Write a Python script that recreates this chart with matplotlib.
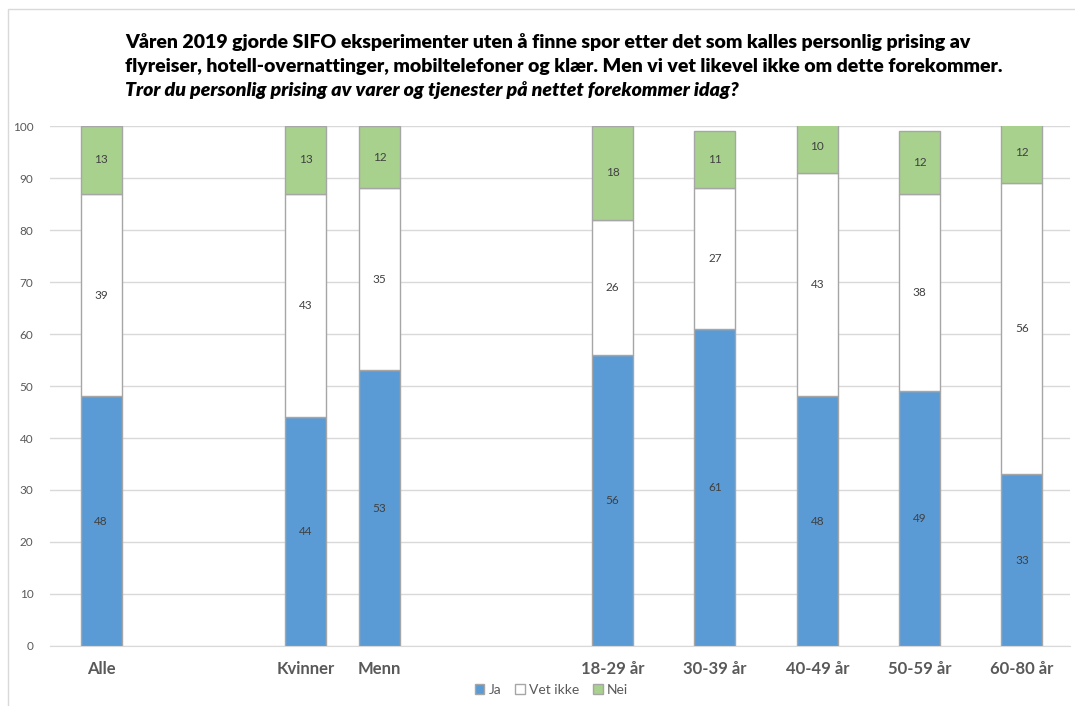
import matplotlib.pyplot as plt
import numpy as np
from matplotlib.patches import Rectangle

categories = ['Alle', 'Kvinner', 'Menn', '18-29 år', '30-39 år', '40-49 år', '50-59 år', '60-80 år']
ja = [48, 44, 53, 56, 61, 48, 49, 33]
vet_ikke = [39, 43, 35, 26, 27, 43, 38, 56]
nei = [13, 13, 12, 18, 11, 10, 12, 12]

# x-positions of the groups (gaps between total, gender and age groups)
xpos = [0, 2, 2.72, 5, 6, 7, 8, 9]

plt.rcParams['font.family'] = ['Lato', 'DejaVu Sans']

fig = plt.figure(figsize=(10.75, 7.06), dpi=100)
ax = fig.add_axes([0.0465, 0.085, 0.9488, 0.7365])

colors = ['#5b9bd5', '#ffffff', '#a9d18e']
series = [('Ja', ja), ('Vet ikke', vet_ikke), ('Nei', nei)]
bottom = np.zeros(len(categories))
for (name, vals), c in zip(series, colors):
    vals = np.array(vals, dtype=float)
    ax.bar(xpos, vals, width=0.4, bottom=bottom, color=c, edgecolor='#a6a6a6',
           linewidth=1.0, label=name, zorder=3)
    for x, b, v in zip(xpos, bottom, vals):
        ax.text(x, b + v / 2, f'{int(v)}', ha='center', va='center',
                fontsize=8.5, color='#404040', zorder=4)
    bottom += vals

ax.set_xlim(-0.5, 9.47)
ax.set_ylim(0, 100)
ax.set_yticks(range(0, 101, 10))
ax.grid(axis='y', color='#d9d9d9', linewidth=1.0, zorder=0)
ax.set_axisbelow(True)
for s in ['top', 'right', 'left']:
    ax.spines[s].set_visible(False)
ax.spines['bottom'].set_color('#d9d9d9')
ax.tick_params(axis='y', length=0, labelsize=8.5, labelcolor='#595959', pad=12)
ax.tick_params(axis='x', length=0, pad=11)
ax.set_xticks(xpos)
ax.set_xticklabels(categories, fontsize=12, fontweight='bold', color='#595959')

title_kw = dict(fontsize=14, fontweight='heavy', color='black', va='center')
fig.text(0.1163, 0.94, 'Våren 2019 gjorde SIFO eksperimenter uten å finne spor etter det som kalles personlig prising av', **title_kw)
fig.text(0.1163, 0.906, 'flyreiser, hotell-overnattinger, mobiltelefoner og klær. Men vi vet likevel ikke om dette forekommer.', **title_kw)
fig.text(0.1163, 0.872, 'Tror du personlig prising av varer og tjenester på nettet forekommer idag?',
         style='italic', **title_kw)

leg = fig.legend(loc='center', bbox_to_anchor=(0.513, 0.023), ncol=3, frameon=False,
                 fontsize=10, handlelength=0.7, handleheight=0.7, handletextpad=0.3,
                 columnspacing=1.0)
for t in leg.get_texts():
    t.set_color('#595959')

# chart frame
fig.patches.append(Rectangle((0.0075, -0.1), 1.2, 1.087, transform=fig.transFigure,
                             fill=False, edgecolor='#d9d9d9', linewidth=1.0))

fig.savefig('out.png', dpi=100, facecolor='white')
